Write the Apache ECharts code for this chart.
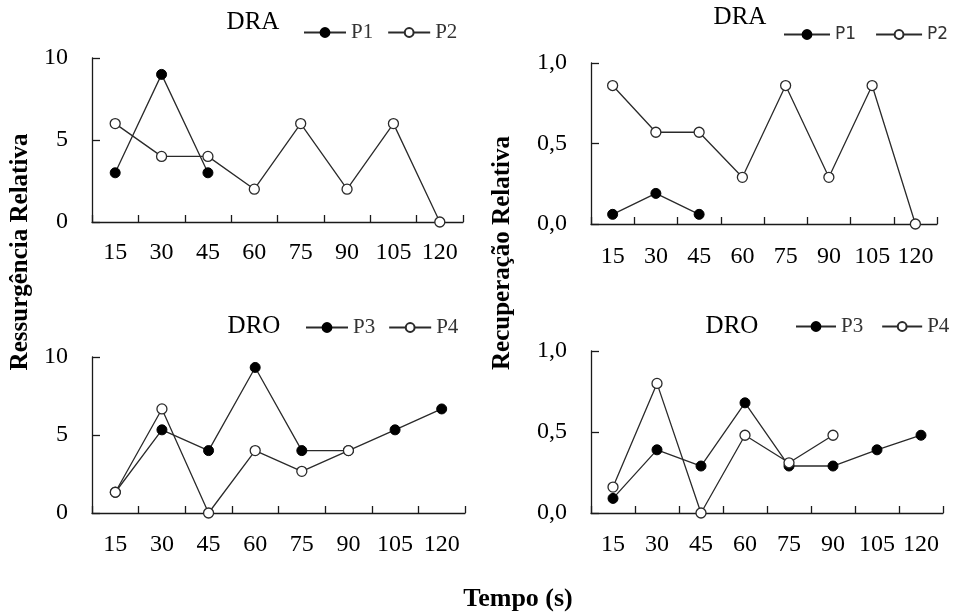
<!DOCTYPE html>
<html>
<head>
<meta charset="utf-8">
<script src="https://cdn.jsdelivr.net/npm/echarts@6/dist/echarts.min.js"></script>
<style>
  html, body { margin: 0; padding: 0; background: #fff; }
  #chart { width: 958px; height: 613px; }
</style>
</head>
<body>
<div id="chart"></div>
<script>
// tempo (s)
var categories = ['15', '30', '45', '60', '75', '90', '105', '120'];

// DRA - ressurgencia / recuperacao
var ressP1 = [3, 9, 3, null, null, null, null, null];
var ressP2 = [6, 4, 4, 2, 6, 2, 6, 0];
var recP1 = [0.06, 0.19, 0.06, null, null, null, null, null];
var recP2 = [0.86, 0.57, 0.57, 0.29, 0.86, 0.29, 0.86, 0];

// DRO
var ressP3 = [1.33, 5.33, 4, 9.33, 4, 4, 5.33, 6.67];
var ressP4 = [1.33, 6.67, 0, 4, 2.67, 4, null, null];
var recP3 = [0.09, 0.39, 0.29, 0.68, 0.29, 0.29, 0.39, 0.48];
var recP4 = [0.16, 0.8, 0, 0.48, 0.31, 0.48, null, null];

var serif = 'Liberation Serif';
var ink = '#1a1a1a';

var grids = [
    { left: 92, top: 58, width: 371, height: 164 },
    { left: 591, top: 63, width: 346, height: 161 },
    { left: 92, top: 357, width: 373, height: 156 },
    { left: 591, top: 351, width: 352, height: 162 },
];

function xAxisFor(i, margin) {
    return {
        type: 'category',
        gridIndex: i,
        data: categories,
        boundaryGap: true,
        axisLine: { lineStyle: { color: ink, width: 1.3 } },
        axisTick: { show: true, inside: true, length: 7, lineStyle: { color: ink, width: 1.3 } },
        axisLabel: { interval: 0, margin: margin, color: '#000', fontFamily: serif, fontSize: 24 },
        splitLine: { show: false },
    };
}

function yAxisFor(i, max, fmt) {
    return {
        type: 'value',
        gridIndex: i,
        min: 0,
        max: max,
        interval: max / 2,
        axisLine: { show: true, lineStyle: { color: ink, width: 1.3 } },
        axisTick: { show: true, inside: true, length: 8, lineStyle: { color: ink, width: 1.3 } },
        axisLabel: { margin: 24, color: '#000', fontFamily: serif, fontSize: 24, formatter: fmt },
        splitLine: { show: false },
    };
}

var commaFmt = function (v) {
    return v.toFixed(1).replace('.', ',');
};

function lineSeries(name, data, i, filled) {
    return {
        name: name,
        type: 'line',
        xAxisIndex: i,
        yAxisIndex: i,
        data: data,
        symbol: 'circle',
        symbolSize: 10,
        showAllSymbol: true,
        connectNulls: false,
        lineStyle: { color: '#2a2a2a', width: 1.3 },
        itemStyle: filled
            ? { color: '#000', borderColor: '#000', borderWidth: 1 }
            : { color: '#fff', borderColor: '#2a2a2a', borderWidth: 1.3 },
    };
}

function legendFor(names, left, top, w, gap, font, size) {
    return {
        data: names,
        left: left,
        top: top,
        padding: 0,
        itemGap: gap,
        itemWidth: w,
        itemHeight: 11,
        textStyle: { color: '#333', fontFamily: font, fontSize: size },
    };
}

function label(text, x, y, size, bold, rotate) {
    return {
        type: 'text',
        x: x,
        y: y,
        rotation: rotate ? Math.PI / 2 : 0,
        style: {
            text: text,
            fill: '#000',
            font: (bold ? 'bold ' : '') + size + 'px "' + serif + '"',
            textAlign: 'center',
            textVerticalAlign: 'middle',
        },
    };
}

var option = {
    animation: false,
    backgroundColor: '#fff',
    grid: grids,
    xAxis: [xAxisFor(0, 19), xAxisFor(1, 21), xAxisFor(2, 20), xAxisFor(3, 20)],
    yAxis: [yAxisFor(0, 10), yAxisFor(1, 1, commaFmt), yAxisFor(2, 10), yAxisFor(3, 1, commaFmt)],
    legend: [
        legendFor(['P1', 'P2'], 303, 22, 42, 14, serif, 21),
        legendFor(['P1', 'P2'], 783, 26, 46, 19, 'DejaVu Sans', 17),
        legendFor(['P3', 'P4'], 305, 317, 42, 13, serif, 21),
        legendFor(['P3', 'P4'], 795, 316, 40, 18, serif, 21),
    ],
    series: [
        lineSeries('P1', ressP1, 0, true),
        lineSeries('P2', ressP2, 0, false),
        lineSeries('P1', recP1, 1, true),
        lineSeries('P2', recP2, 1, false),
        lineSeries('P3', ressP3, 2, true),
        lineSeries('P4', ressP4, 2, false),
        lineSeries('P3', recP3, 3, true),
        lineSeries('P4', recP4, 3, false),
    ],
    graphic: [
        label('DRA', 253, 22, 25, false),
        label('DRA', 740, 17, 25, false),
        label('DRO', 254, 326, 25, false),
        label('DRO', 732, 326, 25, false),
        label('Ressurgência Relativa', 21, 252, 25, true, true),
        label('Recuperação Relativa', 503, 253, 25, true, true),
        label('Tempo (s)', 518, 599, 26, true),
    ],
};

var chart = echarts.init(document.getElementById('chart'));
chart.setOption(option);
</script>
</body>
</html>
